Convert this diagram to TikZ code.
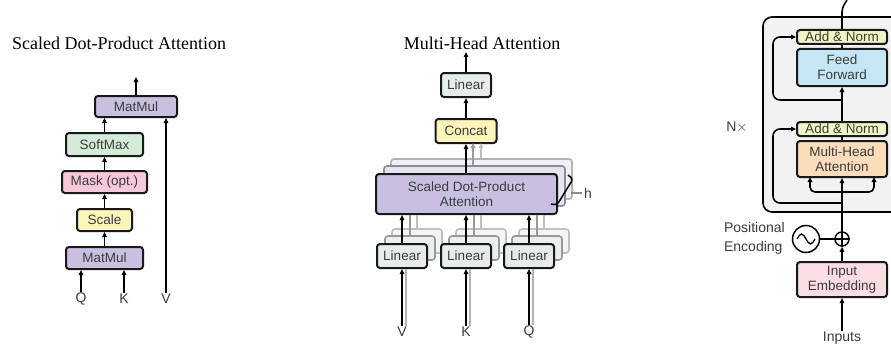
\documentclass[tikz,border=0pt]{standalone}
\usepackage{fontspec}
\setmainfont{Liberation Serif}
\setsansfont{Liberation Sans}
\usetikzlibrary{arrows.meta}
\definecolor{cpurple}{HTML}{C9C0E1}
\definecolor{cgreen}{HTML}{D3EBD8}
\definecolor{cpink}{HTML}{F6C8DA}
\definecolor{cyellow}{HTML}{FBF5BB}
\definecolor{cgray}{HTML}{E6ECEB}
\definecolor{cnorm}{HTML}{F1F4C4}
\definecolor{cblue}{HTML}{C5E7F5}
\definecolor{corange}{HTML}{FCDDBB}
\definecolor{cemb}{HTML}{FADDE3}
\definecolor{cbg}{HTML}{F2F2F2}
\definecolor{ctext}{HTML}{3C3C3C}
\begin{document}
\begin{tikzpicture}[x=1pt,y=-1pt,
  box/.style={draw=black!90, line width=2pt, rounded corners=3pt,
    font=\sffamily\fontsize{13.5}{15}\selectfont, text=ctext, inner sep=0pt, align=center},
  ghost/.style={draw=black!30, line width=1.6pt, rounded corners=3pt, inner sep=0pt},
  arr/.style={line width=1.6pt, -{Triangle[length=5pt,width=4.5pt]}},
  garr/.style={line width=1.6pt, draw=black!40, -{Triangle[length=5pt,width=4.5pt]}},
  ln/.style={line width=1.6pt},
  lbl/.style={font=\sffamily\fontsize{14}{16}\selectfont, text=ctext, inner sep=1pt},
  title/.style={font=\fontsize{18}{20}\selectfont, inner sep=0pt}]
\useasboundingbox (0,0) rectangle (891,345);

% ---------------- Scaled Dot-Product Attention ----------------
\node[title, anchor=west] (t1) at (12,43) {Scaled Dot-Product Attention};
\node[box, fill=cpurple, minimum width=82pt, minimum height=21pt] (mm2) at (136,106.5) {MatMul};
\node[box, fill=cgreen, minimum width=77pt, minimum height=23pt] (sm) at (104.5,144.5) {SoftMax};
\node[box, fill=cpink, minimum width=85pt, minimum height=22pt] (mask) at (104.5,182) {Mask (opt.)};
\node[box, fill=cyellow, minimum width=55pt, minimum height=22pt] (scale) at (104.5,220) {Scale};
\node[box, fill=cpurple, minimum width=77pt, minimum height=22pt] (mm1) at (104.5,258) {MatMul};
\node[lbl] (q1) at (81,299) {Q};
\node[lbl] (k1) at (124,299) {K};
\node[lbl] (v1) at (166,299) {V};
\coordinate (o1) at (136,77);
\draw[arr] (q1.north) -- (q1.north |- mm1.south);
\draw[arr] (k1.north) -- (k1.north |- mm1.south);
\draw[arr] (v1.north) -- (v1.north |- mm2.south);
\draw[arr] (mm1.north) -- (scale.south);
\draw[arr] (scale.north) -- (mask.south);
\draw[arr] (mask.north) -- (sm.south);
\draw[arr] (sm.north) -- (sm.north |- mm2.south);
\draw[arr] (mm2.north) -- (o1);

% ---------------- Multi-Head Attention ----------------
\node[title] (t2) at (482,43) {Multi-Head Attention};
\node[box, fill=cgray, minimum width=50pt, minimum height=24pt] (lt) at (466,85) {Linear};
\node[box, fill=cyellow, minimum width=61pt, minimum height=24pt] (cc) at (466,131) {Concat};
% sdpa copies
\node[ghost, fill=cpurple!25, minimum width=181pt, minimum height=40pt] (sd3) at (481.5,179) {};
\node[ghost, fill=cpurple!45, draw=black!45, minimum width=181pt, minimum height=40pt] (sd2) at (474.5,186) {};
% gray arrows from copies
\draw[garr, draw=black!25] (sd3.north -| 481,0) -- (481,143);
\draw[garr] (sd2.north -| 473,0) -- (473,143);
\node[box, fill=cpurple, minimum width=181pt, minimum height=40pt] (sd) at (466.5,194) {Scaled Dot-Product\\Attention};
% linear copies and fronts
\foreach \n/\x in {lv/402, lk/466, lq/529}{
  \node[ghost, fill=cgray!50, draw=black!25, minimum width=50pt, minimum height=24pt] (\n3) at (\x+15,241) {};
  \node[ghost, fill=cgray!80, draw=black!40, minimum width=50pt, minimum height=24pt] (\n2) at (\x+8,248) {};
  \draw[ln, draw=black!25] (\n3.north) -- (\n3.north |- sd.south);
  \draw[ln, draw=black!40] (\n2.north) -- (\n2.north |- sd.south);
  \node[box, fill=cgray, minimum width=50pt, minimum height=24pt] (\n) at (\x,256) {Linear};
}
\node[lbl] (v2) at (402,332) {V};
\node[lbl] (k2) at (466,332) {K};
\node[lbl] (q2) at (529,332) {Q};
\foreach \a/\b in {v2/lv, k2/lk, q2/lq}{
  \draw[ln, draw=black!30] ([xshift=4pt]\a.north) -- ([xshift=4pt]\a.north |- \b.south);
  \draw[arr] (\a.north) -- (\b.south);
  \draw[arr] (\b.north) -- (\b.north |- sd.south);
}
\coordinate (o2) at (466,52);
\draw[arr] (sd.north -| cc.south) -- (cc.south);
\draw[arr] (cc.north) -- (lt.south);
\draw[arr] (lt.north) -- (o2);
% h bracket
\coordinate (hb1) at (568,175);
\coordinate (hb2) at (551,204);
\draw[line width=1.5pt, rounded corners=3pt] (hb1) -- (573,179) -- (557,205) -- (hb2);
\draw[line width=1.2pt, draw=black!45] (571,193) -- (582,193);
\node[lbl, anchor=west] (h) at (583,193) {h};

% ---------------- Encoder ----------------
\draw[line width=1.6pt, fill=cbg, rounded corners=9pt] (763,17) rectangle (905,212);
\node[lbl] (nx) at (737,127) {N$\times$};
\node[box, fill=cnorm, minimum width=90pt, minimum height=14pt] (an2) at (842,37) {Add \& Norm};
\node[box, fill=cblue, minimum width=90pt, minimum height=37pt] (ff) at (842,67.5) {Feed\\Forward};
\node[box, fill=cnorm, minimum width=90pt, minimum height=14pt] (an1) at (842,129) {Add \& Norm};
\node[box, fill=corange, minimum width=90pt, minimum height=36pt] (mha) at (842,159) {Multi-Head\\Attention};
\node[box, fill=cemb, minimum width=90pt, minimum height=35pt] (emb) at (842,279.5) {Input\\Embedding};
\node[draw, line width=1.5pt, circle, minimum size=14pt, inner sep=0pt] (plus) at (842,239) {};
\draw[line width=1.3pt] (plus.north) -- (plus.south) (plus.west) -- (plus.east);
\node[draw, line width=1.5pt, circle, minimum size=27pt, inner sep=0pt] (pe) at (806,239) {};
\draw[line width=1.3pt] ([xshift=-9pt]pe.center) sin ++(4.5,-5) cos ++(4.5,5) sin ++(4.5,5) cos ++(4.5,-5);
\node[lbl, align=left, anchor=east, font=\sffamily\fontsize{14}{19}\selectfont] (pel) at (786,238) {Positional\\Encoding};
\node[lbl] (inp) at (842,338) {Inputs};

\draw[arr] (inp.north) -- (emb.south);
\draw[arr] (emb.north) -- (plus.south);
\draw[ln] (pe.east) -- (plus.west);
\draw[arr] (plus.north) -- (mha.south);
\draw[ln] (mha.north) -- (an1.south);
\draw[arr] (an1.north) -- (ff.south);
\draw[ln] (ff.north) -- (an2.south);
\coordinate (top) at (847,0);
\draw[ln, rounded corners=4pt] (an2.north) -- (842,8) -- (top);
% branches into MHA
\coordinate (br) at (842,192);
\draw[arr, rounded corners=5pt] (br) -- (810,192) -- (810,177);
\draw[arr, rounded corners=5pt] (br) -- (874,192) -- (874,177);
% residuals
\coordinate (r1) at (842,203);
\coordinate (r2) at (842,100);
\draw[arr, rounded corners=7pt] (r1) -- (773,203) -- (773,129) -- (an1.west);
\draw[arr, rounded corners=7pt] (r2) -- (773,100) -- (773,37) -- (an2.west);
\end{tikzpicture}
\end{document}
